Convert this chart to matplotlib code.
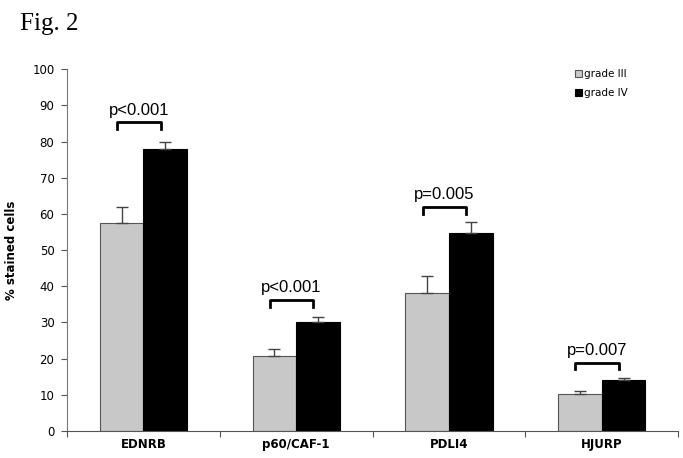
import matplotlib
matplotlib.use("Agg")
import matplotlib.pyplot as plt
import numpy as np

genes = ["EDNRB", "p60/CAF-1", "PDLI4", "HJURP"]
grade3 = [57.5, 20.7, 38.0, 10.2]
grade3_err = [4.5, 1.9, 4.8, 0.9]
grade4 = [78.0, 30.2, 54.8, 14.0]
grade4_err = [2.0, 1.2, 3.0, 0.6]
pvals = ["p<0.001", "p<0.001", "p=0.005", "p=0.007"]
bracket_y = [85.3, 36.2, 62.0, 18.9]

fig = plt.figure(figsize=(6.83, 4.58), dpi=100)
ax = fig.add_axes([0.098, 0.059, 0.895, 0.790])

x = np.arange(len(genes))
w = 0.285

ax.bar(x - w / 2, grade3, w, color="#c8c8c8", edgecolor="#555555", linewidth=0.8,
       label="grade III", zorder=2)
ax.bar(x + w / 2, grade4, w, color="black", edgecolor="black", linewidth=0.8,
       label="grade IV", zorder=2)
ax.errorbar(x - w / 2, grade3, yerr=[np.zeros(4), grade3_err], fmt="none",
            ecolor="#444444", elinewidth=1, capsize=4, capthick=1, zorder=3)
ax.errorbar(x + w / 2, grade4, yerr=[np.zeros(4), grade4_err], fmt="none",
            ecolor="#444444", elinewidth=1, capsize=4, capthick=1, zorder=3)

# significance brackets
for i, (p, yb) in enumerate(zip(pvals, bracket_y)):
    x0, x1 = x[i] - w / 2 - 0.03, x[i] + w / 2 - 0.03
    ax.plot([x0, x0, x1, x1], [yb - 1.9, yb, yb, yb - 1.9], color="black", lw=2)
    ax.text((x0 + x1) / 2, yb + 1.3, p, ha="center", va="bottom",
            fontsize=12, family="Liberation Sans")

ax.set_xlim(-0.5, len(genes) - 0.5)
ax.set_ylim(0, 100)
ax.set_yticks(range(0, 101, 10))
ax.set_xticks(np.arange(-0.5, len(genes), 1.0))
ax.set_xticklabels([])
ax.set_xticks(x, minor=True)
ax.set_xticklabels(genes, minor=True, fontweight="bold", fontsize=8.5)
ax.tick_params(axis="x", which="minor", length=0, pad=5)
ax.tick_params(axis="x", which="major", length=4, direction="out", color="#555555")
ax.tick_params(axis="y", length=4, direction="out", labelsize=8.5, color="#555555",
               pad=5)
ax.set_ylabel("% stained cells", fontweight="bold", fontsize=8.5, labelpad=10)

for s in ["top", "right"]:
    ax.spines[s].set_visible(False)
ax.spines["left"].set_color("#777777")
ax.spines["bottom"].set_color("#555555")

leg = ax.legend(loc="upper right", bbox_to_anchor=(0.925, 1.012), frameon=False,
                fontsize=7.5, handlelength=0.7, handleheight=0.7,
                handletextpad=0.2, labelspacing=0.85, borderaxespad=0)

fig.text(0.03, 0.935, "Fig. 2", fontsize=18, family="Liberation Serif")

fig.savefig("out.png", dpi=100)
